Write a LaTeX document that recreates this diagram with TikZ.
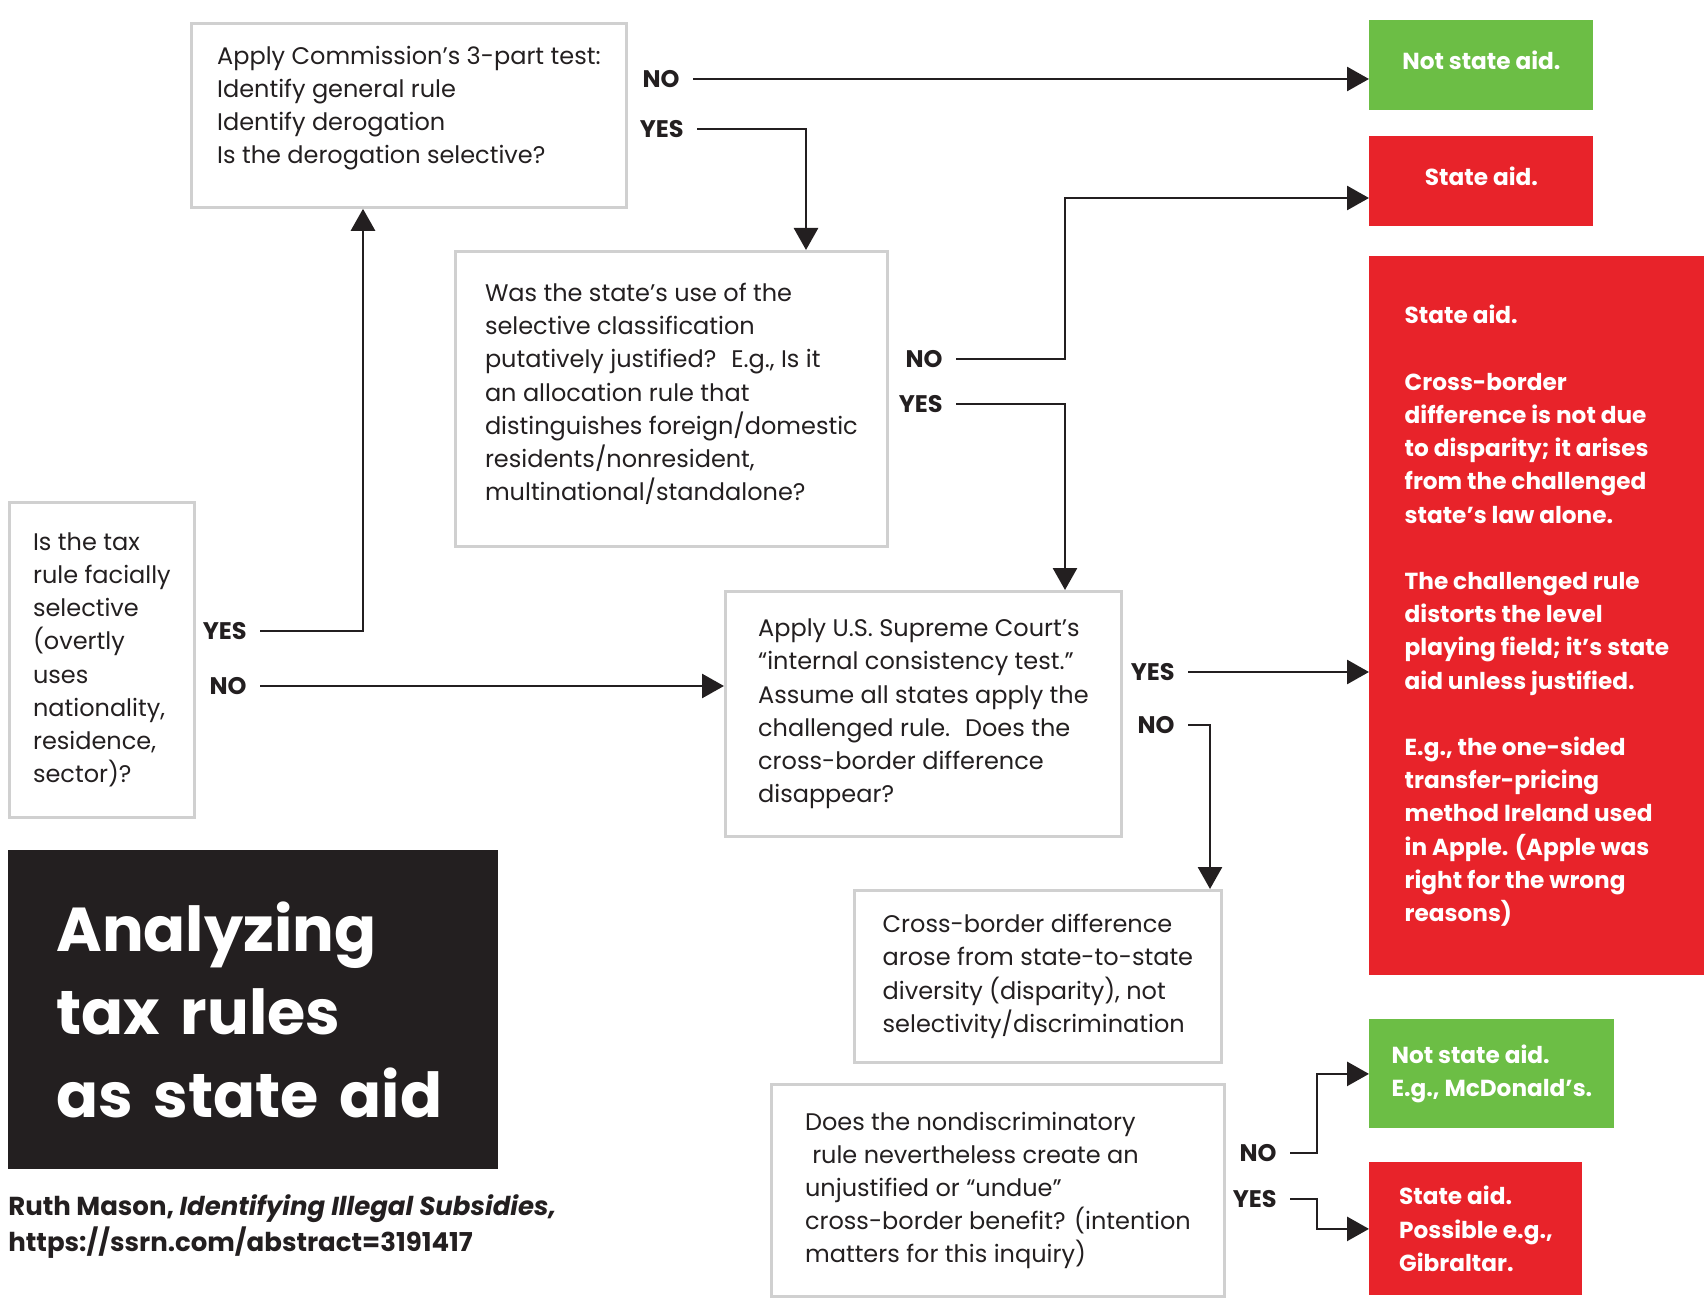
\documentclass[tikz,border=0pt]{standalone}
\usepackage{fontspec}
\setmainfont{Poppins}
\usepackage{tikz}
\usetikzlibrary{arrows.meta}

\definecolor{aidred}{HTML}{E8232A}
\definecolor{aidgreen}{HTML}{6CBE45}
\definecolor{inkblack}{HTML}{231F20}
\definecolor{framegray}{HTML}{D0D0D0}

\begin{document}
\begin{tikzpicture}[x=0.5pt,y=-0.5pt,
    qbox/.style={draw=framegray, line width=1.4pt, anchor=north west, align=left,
        inner sep=0pt, text=inkblack, font=\fontsize{12}{16.6}\selectfont},
    outbox/.style={anchor=north west, inner sep=0pt, text=white,
        font=\bfseries\fontsize{11.6}{16.6}\selectfont},
    answer/.style={anchor=east, inner xsep=6.5pt, inner ysep=0pt, text=inkblack,
        font=\bfseries\fontsize{12}{14}\selectfont},
    flow/.style={draw=inkblack, line width=1.4pt, -{Triangle[length=11pt,width=12pt]}}]

    \useasboundingbox (0,0) rectangle (1704,1300);

    % draws question boxes
    \node[qbox, minimum width=217.5pt, minimum height=92pt, text depth=10.5pt] (comm) at (190,22)
        {Apply Commission’s 3-part test:\\Identify general rule\\Identify derogation\\Is the derogation selective?};
    \node[qbox, minimum width=216pt, minimum height=147.5pt, text depth=7pt] (justif) at (454,250)
        {Was the state’s use of the\\selective classification\\putatively justified? \ E.g., Is it\\an allocation rule that\\distinguishes foreign/domestic\\residents/nonresident,\\multinational/standalone?};
    \node[qbox, minimum width=92.5pt, minimum height=157.5pt] (facial) at (8,501)
        {Is the tax\\rule facially\\selective\\(overtly\\uses\\nationality,\\residence,\\sector)?};
    \node[qbox, minimum width=198pt, minimum height=122.5pt] (internal) at (724,590)
        {Apply U.S. Supreme Court’s\\“internal consistency test.”\\Assume all states apply the\\challenged rule. \ Does the\\cross-border difference\\disappear?};
    \node[qbox, minimum width=183.5pt, minimum height=86pt] (disparity) at (853,889)
        {Cross-border difference\\arose from state-to-state\\diversity (disparity), not\\selectivity/discrimination};
    \node[qbox, minimum width=226.5pt, minimum height=106pt] (undue) at (770,1083)
        {Does the nondiscriminatory\\\hspace*{.3em}rule nevertheless create an\\unjustified or “undue”\\cross-border benefit? (intention\\matters for this inquiry)};

    % draws outcome boxes
    \node[outbox, fill=aidgreen, minimum width=112pt, minimum height=45pt, align=center, text depth=5pt] (notaid) at (1369,20)
        {Not state aid.};
    \node[outbox, fill=aidred, minimum width=112pt, minimum height=45pt, align=center, text depth=5pt] (aid) at (1369,136)
        {State aid.};
    \node[outbox, fill=aidred, minimum width=167.5pt, minimum height=359.5pt, align=left] (aidrule) at (1369,256)
        {State aid.\\[16.6pt]Cross-border\\difference is not due\\to disparity; it arises\\from the challenged\\state’s law alone.\\[16.6pt]The challenged rule\\distorts the level\\playing field; it’s state\\aid unless justified.\\[16.6pt]E.g., the one-sided\\transfer-pricing\\method Ireland used\\in Apple. (Apple was\\right for the wrong\\reasons)};
    \node[outbox, fill=aidgreen, minimum width=122.5pt, minimum height=54.5pt, align=left] (notaidmcd) at (1369,1019)
        {Not state aid.\\E.g., McDonald’s.};
    \node[outbox, fill=aidred, minimum width=106.5pt, minimum height=66.5pt, align=left] (aidgib) at (1369,1162)
        {State aid.\\Possible e.g.,\\Gibraltar.};

    % title and source
    \node[anchor=north west, fill=inkblack, text=white, minimum width=245pt, minimum height=159.5pt,
        inner xsep=24pt, inner ysep=0pt, text width=197pt, align=left,
        font=\bfseries\fontsize{31}{41.5}\selectfont] (title) at (8,850)
        {Analyzing\\tax rules\\as state aid};
    \node[anchor=north west, inner sep=0pt, align=left, text=inkblack,
        font=\bfseries\fontsize{13}{18}\selectfont] (source) at (8,1194)
        {Ruth Mason, \textit{Identifying Illegal Subsidies,}\\https://ssrn.com/abstract=3191417};

    % labels answers
    \node[answer] (no1) at (693,79) {NO};
    \node[answer] (yes1) at (697,129) {YES};
    \node[answer] (no2) at (956,359) {NO};
    \node[answer] (yes2) at (956,404) {YES};
    \node[answer] (yes3) at (260,631) {YES};
    \node[answer] (no3) at (260,686) {NO};
    \node[answer] (yes4) at (1188,672) {YES};
    \node[answer] (no4) at (1188,725) {NO};
    \node[answer] (no5) at (1290,1153) {NO};
    \node[answer] (yes5) at (1290,1199) {YES};

    % bend points
    \coordinate (drop1) at (806,0);
    \coordinate (rise2) at (1065,198);
    \coordinate (drop3) at (363,0);
    \coordinate (drop4) at (1210,0);
    \coordinate (drop5) at (1317,0);

    % draws arrows
    \draw[flow] (no1.east) -- (no1.east -| notaid.west);
    \draw[flow] (yes1.east) -| (drop1 |- justif.north);
    \draw[flow] (no2.east) -| (rise2) -- (rise2 -| aid.west);
    \draw[flow] (yes2.east) -| (rise2 |- internal.north);
    \draw[flow] (yes3.east) -| (drop3 |- comm.south);
    \draw[flow] (no3.east) -- (no3.east -| internal.west);
    \draw[flow] (yes4.east) -- (yes4.east -| aidrule.west);
    \draw[flow] (no4.east) -| (drop4 |- disparity.north);
    \draw[flow] (no5.east) -- (no5.east -| drop5) |- (notaidmcd.west);
    \draw[flow] (yes5.east) -- (yes5.east -| drop5) |- (aidgib.west);
\end{tikzpicture}
\end{document}
